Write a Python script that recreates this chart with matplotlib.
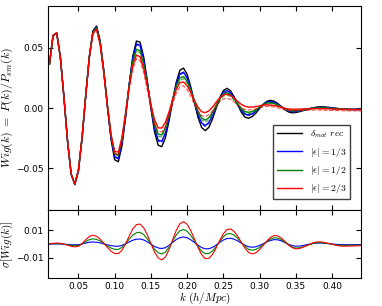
import numpy as np
import matplotlib
matplotlib.use("Agg")
import matplotlib.pyplot as plt

plt.rc('font', size=6.5)
plt.rc('mathtext', fontset='cm')
plt.rc('xtick', direction='in', top=True)
plt.rc('ytick', direction='in', right=True)
plt.rc('xtick.major', pad=3)
plt.rc('ytick.major', pad=3)

# k grid (h/Mpc), 0.010 ... 0.440 in steps of 0.005
k = np.arange(87) * 0.005 + 0.010

wig_mat = [
    0.0366, 0.0605, 0.0625, 0.0424, 0.0088, -0.0279, -0.0552, -0.0639, -0.0526, -0.0254,
    0.0097, 0.0428, 0.0643, 0.0683, 0.0558, 0.0309, 0.0009, -0.0263, -0.0431, -0.0448,
    -0.0319, -0.0083, 0.0193, 0.0429, 0.0558, 0.0549, 0.0426, 0.0225, -0.0003, -0.0198,
    -0.0310, -0.0322, -0.0249, -0.0109, 0.0061, 0.0215, 0.0314, 0.0333, 0.0281, 0.0177,
    0.0047, -0.0077, -0.0162, -0.0189, -0.0161, -0.0093, -0.0003, 0.0084, 0.0145, 0.0164,
    0.0143, 0.0092, 0.0025, -0.0037, -0.0077, -0.0085, -0.0071, -0.0042, -0.0005, 0.0030,
    0.0055, 0.0064, 0.0057, 0.0038, 0.0012, -0.0014, -0.0033, -0.0040, -0.0037, -0.0031,
    -0.0022, -0.0013, -0.0004, 0.0003, 0.0008, 0.0010, 0.0009, 0.0006, 0.0002, -0.0002,
    -0.0006, -0.0009, -0.0011, -0.0012, -0.0012, -0.0012, -0.0012]

wig_13 = [
    0.0366, 0.0605, 0.0625, 0.0424, 0.0088, -0.0279, -0.0552, -0.0636, -0.0522, -0.0250,
    0.0099, 0.0426, 0.0635, 0.0674, 0.0551, 0.0308, 0.0017, -0.0246, -0.0406, -0.0419,
    -0.0293, -0.0067, 0.0194, 0.0415, 0.0535, 0.0523, 0.0407, 0.0220, 0.0010, -0.0167,
    -0.0268, -0.0277, -0.0210, -0.0084, 0.0066, 0.0200, 0.0284, 0.0299, 0.0254, 0.0164,
    0.0053, -0.0052, -0.0124, -0.0146, -0.0121, -0.0064, 0.0011, 0.0081, 0.0130, 0.0145,
    0.0127, 0.0085, 0.0031, -0.0018, -0.0051, -0.0057, -0.0047, -0.0025, 0.0004, 0.0030,
    0.0049, 0.0054, 0.0048, 0.0032, 0.0012, -0.0009, -0.0024, -0.0030, -0.0028, -0.0023,
    -0.0017, -0.0011, -0.0004, 0.0001, 0.0005, 0.0006, 0.0004, 0.0002, -0.0001, -0.0003,
    -0.0006, -0.0008, -0.0010, -0.0010, -0.0010, -0.0010, -0.0010]

wig_12 = [
    0.0366, 0.0605, 0.0625, 0.0424, 0.0088, -0.0279, -0.0552, -0.0632, -0.0512, -0.0239,
    0.0106, 0.0427, 0.0633, 0.0668, 0.0546, 0.0310, 0.0028, -0.0224, -0.0378, -0.0390,
    -0.0264, -0.0050, 0.0191, 0.0389, 0.0490, 0.0477, 0.0372, 0.0208, 0.0024, -0.0131,
    -0.0218, -0.0225, -0.0164, -0.0056, 0.0072, 0.0182, 0.0251, 0.0261, 0.0224, 0.0151,
    0.0060, -0.0025, -0.0083, -0.0101, -0.0082, -0.0037, 0.0022, 0.0078, 0.0116, 0.0127,
    0.0112, 0.0078, 0.0035, -0.0004, -0.0030, -0.0036, -0.0029, -0.0013, 0.0008, 0.0028,
    0.0041, 0.0044, 0.0039, 0.0026, 0.0010, -0.0006, -0.0017, -0.0022, -0.0020, -0.0018,
    -0.0013, -0.0009, -0.0004, 0.0000, 0.0001, 0.0002, 0.0001, 0.0000, -0.0003, -0.0005,
    -0.0007, -0.0009, -0.0010, -0.0011, -0.0011, -0.0011, -0.0011]

wig_23 = [
    0.0366, 0.0605, 0.0625, 0.0424, 0.0088, -0.0279, -0.0552, -0.0633, -0.0515, -0.0244,
    0.0100, 0.0419, 0.0624, 0.0657, 0.0529, 0.0292, 0.0018, -0.0221, -0.0362, -0.0367,
    -0.0247, -0.0046, 0.0174, 0.0352, 0.0442, 0.0426, 0.0331, 0.0186, 0.0030, -0.0097,
    -0.0165, -0.0167, -0.0119, -0.0033, 0.0068, 0.0156, 0.0210, 0.0217, 0.0186, 0.0130,
    0.0064, 0.0006, -0.0031, -0.0039, -0.0024, 0.0007, 0.0047, 0.0084, 0.0108, 0.0115,
    0.0104, 0.0081, 0.0054, 0.0029, 0.0014, 0.0007, 0.0007, 0.0012, 0.0018, 0.0025,
    0.0027, 0.0024, 0.0021, 0.0014, 0.0006, -0.0002, -0.0008, -0.0010, -0.0010, -0.0009,
    -0.0008, -0.0007, -0.0006, -0.0005, -0.0005, -0.0006, -0.0006, -0.0007, -0.0008, -0.0009,
    -0.0010, -0.0011, -0.0012, -0.0012, -0.0012, -0.0013, -0.0013]

# downward shift of the dashed companion curves
shift_13 = [
    0.0, 0.0, 0.0, 0.0, 0.0, 0.0, 0.0, 0.0, 0.0, 0.0001,
    0.0001, 0.0002, 0.0002, 0.0003, 0.0003, 0.0004, 0.0004, 0.0005, 0.0005, 0.0006,
    0.0006, 0.0007, 0.0007, 0.0008, 0.0008, 0.0009, 0.0009, 0.0009, 0.0009, 0.0009,
    0.0009, 0.0009, 0.0009, 0.0009, 0.0009, 0.0009, 0.0009, 0.0009, 0.0009, 0.0009,
    0.0009, 0.0009, 0.0009, 0.0009, 0.0009, 0.0009, 0.0009, 0.0009, 0.0009, 0.0009,
    0.0009, 0.0009, 0.0008, 0.0008, 0.0007, 0.0007, 0.0006, 0.0006, 0.0005, 0.0005,
    0.0004, 0.0004, 0.0004, 0.0004, 0.0004, 0.0004, 0.0004, 0.0004, 0.0004, 0.0004,
    0.0004, 0.0004, 0.0004, 0.0004, 0.0004, 0.0004, 0.0004, 0.0004, 0.0004, 0.0004,
    0.0004, 0.0004, 0.0004, 0.0004, 0.0004, 0.0004, 0.0004]

shift_12 = [
    0.0, 0.0, 0.0, 0.0, 0.0, 0.0, 0.0, 0.0, 0.0, 0.0001,
    0.0002, 0.0003, 0.0004, 0.0005, 0.0006, 0.0007, 0.0008, 0.0009, 0.0010, 0.0011,
    0.0012, 0.0013, 0.0014, 0.0015, 0.0015, 0.0017, 0.0017, 0.0017, 0.0017, 0.0017,
    0.0017, 0.0017, 0.0017, 0.0017, 0.0017, 0.0017, 0.0017, 0.0017, 0.0017, 0.0017,
    0.0017, 0.0017, 0.0017, 0.0017, 0.0017, 0.0017, 0.0017, 0.0017, 0.0017, 0.0017,
    0.0017, 0.0016, 0.0015, 0.0014, 0.0013, 0.0012, 0.0011, 0.0010, 0.0009, 0.0008,
    0.0007, 0.0006, 0.0006, 0.0006, 0.0006, 0.0006, 0.0006, 0.0006, 0.0006, 0.0006,
    0.0006, 0.0006, 0.0006, 0.0006, 0.0006, 0.0006, 0.0006, 0.0006, 0.0006, 0.0006,
    0.0006, 0.0006, 0.0006, 0.0006, 0.0006, 0.0006, 0.0006]

shift_23 = [
    0.0, 0.0, 0.0, 0.0, 0.0, 0.0, 0.0, 0.0, 0.0, 0.0002,
    0.0004, 0.0006, 0.0008, 0.0010, 0.0012, 0.0014, 0.0016, 0.0018, 0.0020, 0.0022,
    0.0024, 0.0026, 0.0028, 0.0029, 0.0030, 0.0033, 0.0033, 0.0033, 0.0033, 0.0033,
    0.0033, 0.0033, 0.0033, 0.0033, 0.0033, 0.0033, 0.0033, 0.0033, 0.0033, 0.0033,
    0.0033, 0.0033, 0.0033, 0.0033, 0.0033, 0.0033, 0.0033, 0.0033, 0.0033, 0.0033,
    0.0033, 0.0031, 0.0029, 0.0027, 0.0025, 0.0023, 0.0021, 0.0019, 0.0017, 0.0015,
    0.0013, 0.0012, 0.0012, 0.0012, 0.0012, 0.0012, 0.0012, 0.0012, 0.0012, 0.0012,
    0.0012, 0.0012, 0.0012, 0.0012, 0.0012, 0.0012, 0.0012, 0.0012, 0.0012, 0.0012,
    0.0012, 0.0012, 0.0012, 0.0012, 0.0012, 0.0012, 0.0012]

# lower panel: sigma[Wig(k)]
sig_13 = [
    0.0000, 0.0000, 0.0001, 0.0000, -0.0001, -0.0003, -0.0005, -0.0006, -0.0005, 0.0000,
    0.0007, 0.0013, 0.0015, 0.0013, 0.0008, 0.0001, -0.0006, -0.0012, -0.0016, -0.0017,
    -0.0010, 0.0001, 0.0015, 0.0028, 0.0035, 0.0037, 0.0030, 0.0016, -0.0001, -0.0018,
    -0.0029, -0.0033, -0.0027, -0.0010, 0.0011, 0.0033, 0.0047, 0.0052, 0.0046, 0.0031,
    0.0012, -0.0009, -0.0026, -0.0035, -0.0035, -0.0025, -0.0008, 0.0012, 0.0029, 0.0040,
    0.0042, 0.0035, 0.0022, 0.0006, -0.0010, -0.0020, -0.0024, -0.0020, -0.0011, 0.0002,
    0.0015, 0.0026, 0.0032, 0.0031, 0.0023, 0.0011, -0.0002, -0.0012, -0.0016, -0.0015,
    -0.0011, -0.0005, 0.0000, 0.0005, 0.0007, 0.0007, 0.0005, 0.0003, 0.0000, -0.0002,
    -0.0004, -0.0005, -0.0005, -0.0005, -0.0004, -0.0004, -0.0004]

sig_12 = [
    0.0001, 0.0002, 0.0003, 0.0002, -0.0002, -0.0006, -0.0010, -0.0012, -0.0010, 0.0001,
    0.0018, 0.0032, 0.0038, 0.0034, 0.0022, 0.0004, -0.0014, -0.0030, -0.0039, -0.0040,
    -0.0025, 0.0002, 0.0035, 0.0065, 0.0083, 0.0086, 0.0070, 0.0038, 0.0000, -0.0038,
    -0.0064, -0.0073, -0.0060, -0.0025, 0.0021, 0.0066, 0.0097, 0.0107, 0.0094, 0.0064,
    0.0024, -0.0018, -0.0052, -0.0071, -0.0070, -0.0051, -0.0019, 0.0019, 0.0053, 0.0074,
    0.0077, 0.0065, 0.0040, 0.0010, -0.0019, -0.0039, -0.0046, -0.0040, -0.0025, -0.0004,
    0.0018, 0.0036, 0.0045, 0.0044, 0.0032, 0.0013, -0.0007, -0.0023, -0.0030, -0.0028,
    -0.0021, -0.0012, -0.0002, 0.0006, 0.0010, 0.0009, 0.0007, 0.0003, -0.0002, -0.0006,
    -0.0009, -0.0010, -0.0010, -0.0009, -0.0009, -0.0008, -0.0008]

sig_23 = [
    0.0002, 0.0005, 0.0007, 0.0005, -0.0001, -0.0009, -0.0017, -0.0021, -0.0017, 0.0002,
    0.0031, 0.0055, 0.0065, 0.0057, 0.0036, 0.0006, -0.0026, -0.0053, -0.0070, -0.0071,
    -0.0046, 0.0001, 0.0058, 0.0111, 0.0142, 0.0147, 0.0120, 0.0068, 0.0004, -0.0059,
    -0.0102, -0.0117, -0.0096, -0.0042, 0.0030, 0.0100, 0.0149, 0.0164, 0.0145, 0.0099,
    0.0038, -0.0025, -0.0078, -0.0107, -0.0106, -0.0077, -0.0030, 0.0026, 0.0075, 0.0106,
    0.0111, 0.0092, 0.0056, 0.0011, -0.0032, -0.0063, -0.0073, -0.0064, -0.0041, -0.0010,
    0.0022, 0.0048, 0.0062, 0.0060, 0.0044, 0.0020, -0.0007, -0.0027, -0.0036, -0.0033,
    -0.0024, -0.0012, 0.0001, 0.0011, 0.0016, 0.0015, 0.0011, 0.0005, -0.0002, -0.0009,
    -0.0014, -0.0016, -0.0016, -0.0015, -0.0014, -0.0013, -0.0012]

labels = [r'$\delta_{mat}\ rec$', r'$|\epsilon|=1/3$', r'$|\epsilon|=1/2$', r'$|\epsilon|=2/3$']
colors = ['k', 'b', 'g', 'r']

fig = plt.figure(figsize=(3.82, 3.06), dpi=100)
ax1 = fig.add_axes([0.1257, 0.3137, 0.8193, 0.6667])
ax2 = fig.add_axes([0.1257, 0.0915, 0.8193, 0.2222], sharex=ax1)

ax1.plot(k, wig_mat, color='k', lw=1.0, label=labels[0])
for w, s, c, lab in zip([wig_13, wig_12, wig_23], [shift_13, shift_12, shift_23],
                        colors[1:], labels[1:]):
    ax1.plot(k, w, color=c, lw=1.0, label=lab)
    ax1.plot(k, np.array(w) - np.array(s), color=c, lw=0.8, ls='--', alpha=0.7)

ax1.set_xlim(0.008, 0.44)
ax1.set_ylim(-0.085, 0.085)
ax1.set_yticks([-0.05, 0.0, 0.05])
ax1.set_yticklabels(['\u22120.05', '0.00', '0.05'])
ax1.tick_params(labelbottom=False)
ax1.set_ylabel(r'$Wig(k)\ =\ P(k)/P_{sm}(k)$', fontsize=8.5, labelpad=1)
ax1.legend(loc='lower right', fontsize=7, fancybox=False, edgecolor='0.25',
           handlelength=2.6, borderaxespad=1.1, framealpha=1, labelspacing=0.55)

for sg, c in zip([sig_13, sig_12, sig_23], colors[1:]):
    ax2.plot(k, sg, color=c, lw=0.8)

ax2.set_ylim(-0.025, 0.025)
ax2.set_yticks([-0.01, 0.01])
ax2.set_yticklabels(['\u22120.01', '0.01'])
ax2.set_xticks([0.05, 0.10, 0.15, 0.20, 0.25, 0.30, 0.35, 0.40])
ax2.set_xticklabels(['0.05', '0.10', '0.15', '0.20', '0.25', '0.30', '0.35', '0.40'])
ax2.set_xlabel(r'$k\ (h/Mpc)$', fontsize=8, labelpad=0)
ax2.set_ylabel(r'$\sigma[Wig(k)]$', fontsize=8, labelpad=1)

fig.align_ylabels([ax1, ax2])
fig.savefig('out.png', dpi=100)
